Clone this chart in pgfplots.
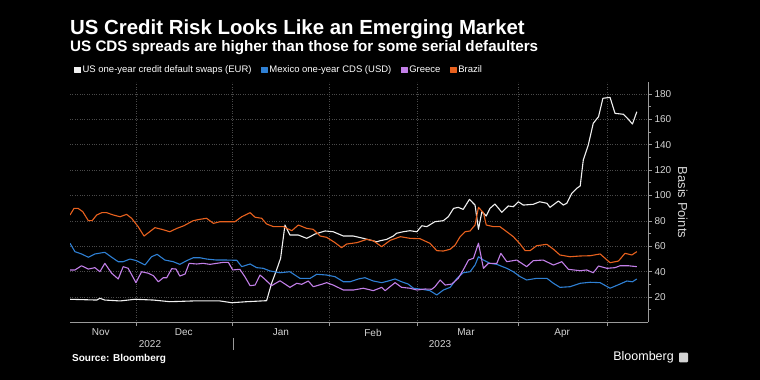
\documentclass[border=0pt]{standalone}
\usepackage{pgfplots}
\pgfplotsset{compat=1.18}
\usepackage{fontspec}
\setmainfont{Liberation Sans}
\definecolor{usw}{HTML}{F0F0F0}
\definecolor{mxb}{HTML}{2F80D4}
\definecolor{grp}{HTML}{C27FE8}
\definecolor{bro}{HTML}{E8611E}
\definecolor{gridc}{HTML}{4A4A4A}
\definecolor{axc}{HTML}{9A9A9A}
\definecolor{txt}{HTML}{D4D4D4}
\begin{document}
\begin{tikzpicture}[x=1pt,y=1pt]
\useasboundingbox (0,0) rectangle (760,380);
\fill[black] (0,0) rectangle (760,380);
\node[anchor=base west, text=white, inner sep=0, font=\bfseries\fontsize{20.4}{24}\selectfont] at (70,345) {US Credit Risk Looks Like an Emerging Market};
\node[anchor=base west, text=white, inner sep=0, font=\bfseries\fontsize{15.2}{18}\selectfont] at (70,328) {US CDS spreads are higher than those for some serial defaulters};
\begin{axis}[
  at={(70pt,57.6pt)}, anchor=south west, scale only axis,
  width=578pt, height=240pt,
  xmin=8.8, xmax=194.6, ymin=0, ymax=189,
  axis x line*=bottom, axis y line*=right,
  axis line style={axc, line width=0.9pt},
  xtick={30,61.1,92.2,120.3,152.9,181.4}, xticklabels={},
  x tick style={axc, line width=0.6pt},
  extra x ticks={18.7,45.4,76.6,106.2,136.1,167},
  extra x tick labels={Nov,Dec,Jan,Feb,Mar,Apr},
  extra x tick style={grid=none, major tick length=0pt},
  xticklabel style={text=txt, font=\fontsize{10}{12}\selectfont, yshift=-3pt},
  xmajorgrids, ymajorgrids,
  grid style={gridc, dotted, line width=0.6pt},
  ytick={20,40,...,180},
  minor ytick={10,30,...,190},
  tick align=outside,
  major tick length=3.5pt, minor tick length=2.5pt,
  y tick style={axc, line width=0.6pt},
  minor y tick style={axc, line width=0.6pt},
  yticklabel style={text=txt, font=\fontsize{10}{12}\selectfont, xshift=-0.5pt},
  /pgf/number format/assume math mode=true,
  ylabel={Basis Points},
  ylabel style={rotate=180, text=txt, font=\fontsize{13}{15}\selectfont},
  legend style={at={(0,1)}, anchor=south west, xshift=4pt, yshift=6pt,
    draw=none, fill=none, text=white, font=\fontsize{9.5}{11}\selectfont,
    inner sep=0pt, nodes={inner xsep=1.5pt},
    /tikz/every even column/.append style={column sep=8pt}},
  legend columns=4, legend cell align=left,
  legend image code/.code={\fill[#1] (0pt,-2.9pt) rectangle (5.8pt,2.9pt);},
  every axis plot/.append style={line width=1.1pt, line join=round},
]
\addplot[usw] coordinates {(8.8,18.2) (17.4,17.6) (18.4,19.0) (20.0,17.6) (24.9,16.9) (29.7,18.2) (35.6,17.6) (40.9,16.3) (48.4,16.9) (57.0,16.9) (60.8,15.5) (65.6,16.3) (72.0,17.1) (73.6,30.8) (75.2,41.3) (76.5,50.5) (77.9,76.7) (79.5,68.8) (82.2,68.8) (84.9,66.2) (87.6,69.6) (90.8,72.0) (93.4,71.4) (96.7,68.0) (99.9,68.0) (103.1,66.2) (107.4,63.5) (108.5,64.3) (110.6,65.4) (112.7,68.0) (113.8,70.2) (115.9,71.4) (118.1,72.2) (120.3,71.4) (121.9,76.1) (123.5,75.4) (126.1,79.3) (128.8,80.1) (130.4,83.2) (132.1,89.8) (133.6,90.6) (135.2,89.0) (137.2,96.9) (139.0,92.4) (140.1,73.3) (141.2,87.2) (142.6,83.8) (143.8,89.8) (145.4,93.2) (147.6,86.7) (149.7,91.7) (151.3,91.1) (152.9,95.0) (154.5,92.4) (157.7,93.0) (159.8,95.0) (162.1,93.8) (163.1,90.6) (165.8,95.6) (167.4,92.4) (168.5,93.8) (170.1,101.7) (171.7,105.6) (172.8,107.4) (173.8,127.9) (175.4,139.7) (177.0,156.8) (178.7,162.0) (180.1,176.5) (182.4,177.2) (184.0,164.6) (186.7,163.9) (188.3,159.9) (189.6,156.2) (191.0,165.9)};
\addlegendentry{US one-year credit default swaps (EUR)}
\addplot[mxb] coordinates {(8.8,62.3) (10.4,55.7) (12.5,53.9) (14.7,51.3) (16.8,53.9) (20.0,55.2) (22.2,51.3) (24.3,47.8) (25.9,47.8) (28.1,49.9) (30.2,48.6) (32.9,45.2) (35.0,51.7) (36.8,53.6) (39.3,49.1) (42.0,47.8) (44.1,45.7) (46.3,48.6) (48.4,50.9) (50.6,50.9) (52.7,49.9) (55.9,49.1) (59.2,49.1) (62.4,48.9) (64.0,43.9) (66.7,46.0) (68.8,43.1) (70.9,42.6) (73.1,40.5) (76.3,39.1) (79.5,39.9) (82.7,34.7) (86.0,34.7) (88.1,37.9) (91.3,37.3) (94.0,36.0) (96.7,32.0) (98.8,32.0) (101.5,34.2) (103.6,35.2) (106.3,32.6) (109.0,31.3) (111.1,32.6) (113.3,34.2) (115.4,32.0) (117.5,30.2) (119.2,26.9) (121.9,26.1) (124.5,25.0) (126.7,21.6) (128.8,25.5) (131.0,27.6) (133.2,34.7) (135.2,39.1) (137.4,39.9) (139.0,45.2) (140.1,51.7) (141.7,49.1) (143.8,46.5) (146.0,45.7) (149.2,42.6) (151.3,39.9) (153.5,36.0) (155.6,33.4) (158.8,34.7) (162.1,34.7) (164.2,30.8) (166.3,27.6) (169.5,28.1) (172.8,30.8) (176.0,31.6) (179.2,31.3) (182.4,26.9) (185.6,30.2) (187.8,32.6) (189.6,32.0) (191.0,34.2)};
\addlegendentry{Mexico one-year CDS (USD)}
\addplot[grp] coordinates {(8.8,41.3) (10.4,41.3) (12.5,44.6) (14.7,42.0) (16.8,43.1) (18.4,39.9) (20.0,46.5) (22.2,38.7) (24.3,34.2) (25.9,43.9) (27.5,42.6) (30.0,31.3) (31.8,39.9) (34.0,38.7) (35.6,36.8) (37.2,32.0) (38.8,35.2) (39.9,35.2) (41.5,42.3) (42.9,42.0) (44.1,36.5) (45.8,38.1) (47.1,46.5) (49.5,46.0) (51.6,46.5) (53.8,45.7) (55.9,46.5) (58.1,47.3) (59.7,47.3) (61.1,41.3) (63.4,41.8) (65.0,36.0) (66.7,28.9) (68.3,29.4) (69.9,37.3) (71.5,33.9) (73.6,28.9) (76.3,32.8) (79.5,27.6) (81.7,30.8) (83.3,30.0) (85.4,32.6) (87.0,28.1) (89.7,30.0) (91.3,31.3) (93.4,29.4) (96.7,25.5) (99.9,25.5) (103.1,26.9) (106.3,25.0) (109.0,27.6) (110.1,25.0) (113.3,31.3) (115.4,27.6) (118.1,26.9) (120.3,25.5) (122.9,26.3) (125.1,26.1) (126.1,28.1) (127.8,33.4) (129.4,29.4) (131.5,30.2) (133.6,34.7) (135.2,41.3) (136.9,49.1) (138.5,50.5) (140.1,62.3) (141.7,42.6) (143.3,46.5) (146.0,46.5) (147.3,54.4) (149.2,47.8) (152.4,49.1) (155.6,43.9) (157.7,48.6) (160.9,49.1) (164.2,45.2) (166.9,47.8) (169.0,41.8) (172.8,40.7) (174.9,41.3) (177.0,39.1) (178.7,44.4) (181.4,42.6) (184.0,43.1) (185.6,44.6) (188.3,44.6) (191.0,43.9)};
\addlegendentry{Greece}
\addplot[bro] coordinates {(8.8,84.6) (10.1,89.8) (11.4,89.8) (12.9,87.2) (14.7,80.1) (15.9,80.1) (17.4,84.6) (19.0,86.4) (20.6,86.4) (22.7,84.6) (24.9,83.2) (27.0,85.1) (28.6,82.0) (30.7,75.4) (32.6,68.0) (34.0,70.6) (36.1,74.6) (38.3,73.3) (40.9,71.4) (43.1,74.0) (45.4,76.1) (48.4,80.1) (50.6,81.2) (52.7,82.0) (54.9,78.0) (57.0,79.3) (59.2,79.3) (61.8,79.3) (64.0,83.2) (66.7,86.4) (68.3,82.8) (70.4,82.0) (72.0,77.5) (74.2,75.4) (77.4,75.4) (80.1,72.2) (82.2,76.7) (84.9,74.0) (87.0,73.3) (89.2,68.0) (91.3,67.0) (94.0,62.8) (96.1,58.8) (97.7,61.7) (101.0,62.8) (104.2,65.4) (106.3,64.3) (109.0,59.6) (111.7,64.6) (115.0,67.5) (118.1,66.2) (121.3,65.9) (124.5,62.3) (126.7,56.5) (128.8,56.2) (131.0,57.6) (132.6,60.9) (134.2,67.5) (135.8,71.4) (137.4,72.0) (139.0,76.7) (140.1,90.6) (141.7,86.4) (142.6,76.7) (144.9,75.4) (147.0,75.4) (149.2,71.4) (151.3,67.5) (153.5,61.7) (155.1,56.5) (156.7,56.5) (158.8,60.4) (162.1,61.5) (164.2,57.6) (166.3,53.1) (169.5,51.7) (172.8,52.3) (176.0,52.5) (179.2,53.9) (180.8,50.5) (182.4,47.0) (185.1,48.3) (187.2,54.4) (189.4,53.1) (191.0,55.7)};
\addlegendentry{Brazil}
\end{axis}
\node[anchor=base, text=txt, font=\fontsize{10}{12}\selectfont] at (150,32.7) {2022};
\node[anchor=base, text=txt, font=\fontsize{10}{12}\selectfont] at (440,32.7) {2023};
\draw[axc, line width=0.5pt] (233,42) -- (233,30);
\node[anchor=base west, inner sep=0, text=white, font=\bfseries\fontsize{10}{12}\selectfont] at (72,18.3) {Source: Bloomberg};
\node[anchor=base east, inner sep=0, text=white, font=\fontsize{12.5}{14}\selectfont] at (674,19.3) {Bloomberg};
\fill[txt, rounded corners=1pt] (679,17.7) rectangle (688,27.3);
\end{tikzpicture}
\end{document}
